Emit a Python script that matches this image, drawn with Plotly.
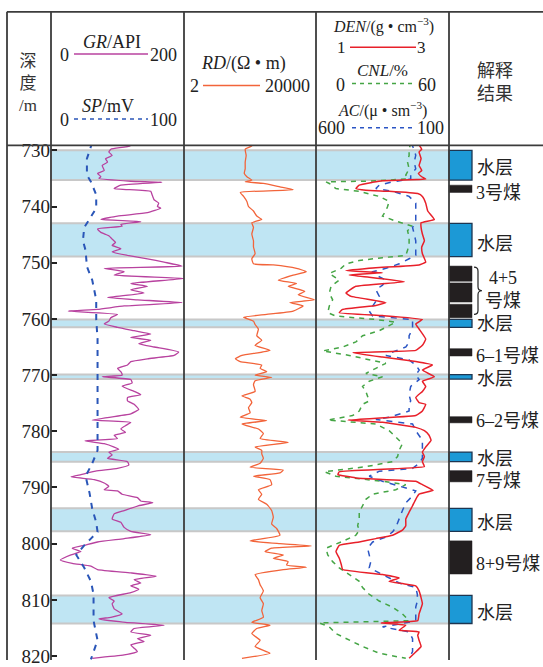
import math
import re
import plotly.graph_objects as go

# ---------------- data ----------------
GR_DEPTH = [728.6, 729.2, 729.8, 730.3, 730.9, 731.5, 732.1, 732.7, 733.6, 734.1,
            734.7, 735.0, 735.5, 735.7, 736.2, 736.8, 737.3, 737.9, 738.8, 739.4,
            740.0, 740.3, 741.1, 741.7, 742.3, 742.7, 743.2, 743.5, 744.0, 744.6,
            745.2, 745.8, 746.4, 746.9, 747.5, 748.1, 748.7, 749.3, 749.9, 750.6,
            751.0, 751.6, 752.2, 752.8, 753.7, 754.2, 754.8, 755.4, 756.2, 756.6,
            757.1, 757.7, 758.3, 758.6, 759.2, 759.8, 760.4, 760.9, 761.5, 762.1,
            762.7, 763.3, 763.8, 764.4, 765.0, 765.9, 766.5, 767.1, 767.6, 768.2,
            768.8, 769.4, 770.0, 770.3, 770.8, 771.4, 772.0, 772.9, 773.5, 774.0,
            774.6, 775.2, 776.1, 776.9, 778.0, 778.4, 779.0, 779.6, 780.2, 780.7,
            781.3, 781.7, 782.2, 782.8, 783.2, 783.7, 784.2, 784.8, 785.4, 786.0,
            786.6, 787.1, 787.7, 788.1, 788.6, 789.2, 789.8, 790.4, 790.6, 791.2,
            791.8, 792.4, 792.7, 793.3, 794.1, 794.7, 795.6, 796.2, 797.1, 797.8,
            798.4, 799.1, 799.7, 800.3, 800.8, 801.4, 802.0, 802.9, 803.5, 804.0,
            804.6, 805.2, 805.8, 806.4, 807.0, 807.5, 808.1, 808.7, 809.6, 810.2,
            810.7, 811.6, 812.5, 813.1, 813.4, 814.0, 814.5, 815.1, 815.7, 816.3,
            816.9, 817.4, 818.0, 818.6, 819.2, 819.8, 820.4]
GR = [118, 119, 90, 87, 92, 82, 85, 77, 80, 70,
      75, 72, 120, 167, 105, 95, 150, 152, 155, 162,
      160, 165, 145, 100, 75, 135, 105, 107, 70, 75,
      87, 92, 97, 92, 105, 92, 115, 145, 170, 197,
      80, 110, 95, 200, 120, 145, 120, 140, 85, 130,
      197, 110, 70, 26, 100, 90, 87, 80, 100, 125,
      150, 120, 150, 132, 155, 192, 185, 145, 120, 115,
      100, 105, 107, 77, 120, 122, 107, 125, 135, 115,
      115, 125, 132, 120, 62, 120, 112, 105, 112, 95,
      100, 51, 80, 95, 102, 87, 92, 85, 115, 117,
      100, 67, 45, 30, 65, 80, 87, 80, 100, 107,
      130, 135, 153, 130, 110, 95, 92, 105, 110, 120,
      150, 110, 70, 50, 32, 45, 30, 14, 32, 60,
      70, 120, 158, 125, 135, 120, 132, 120, 87, 95,
      92, 95, 107, 90, 72, 112, 170, 125, 120, 150,
      130, 140, 120, 125, 130, 110, 62]

SP_DEPTH = [728.6, 731.5, 734.4, 735.6, 737.9, 740.3, 742.6, 743.7, 746.1, 747.8,
            750.7, 753.1, 756.6, 760.1, 763.6, 767.1, 770.5, 774.6, 779.9, 783.4,
            785.7, 788.0, 791.0, 793.8, 796.2, 797.9, 799.1, 800.3, 802.0, 804.3,
            806.7, 809.0, 811.3, 813.7, 817.2, 819.5, 820.6]
SP = [31, 27, 27, 30, 34, 34, 28, 25, 24, 26,
      27, 31, 34, 34, 35, 35, 35, 35, 35, 35,
      31, 26, 29, 31, 34, 35, 30, 25, 19, 25,
      30, 32, 32, 32, 35, 32, 30]

RD_DEPTH = [728.6, 729.2, 729.8, 730.9, 732.1, 733.3, 734.1, 734.7, 735.3, 735.6,
            735.9, 736.5, 737.0, 737.5, 738.2, 739.1, 740.0, 740.8, 741.7, 742.3,
            742.9, 743.7, 744.9, 746.1, 747.2, 748.4, 749.3, 750.2, 750.4, 751.0,
            751.6, 752.2, 753.1, 753.7, 754.2, 755.1, 755.7, 756.6, 757.1, 757.7,
            758.6, 759.2, 759.7, 760.4, 761.0, 761.8, 763.0, 763.8, 764.7, 765.6,
            766.5, 767.1, 767.6, 768.2, 768.8, 769.4, 770.0, 770.4, 771.0, 771.7,
            772.9, 773.7, 774.3,
            774.9, 775.8, 776.7, 777.5, 778.1, 778.7, 779.6, 780.4, 781.3, 782.0,
            782.8, 783.4, 784.0, 784.8, 785.7, 786.4, 786.9, 787.4, 788.0, 788.6,
            789.5, 790.4, 791.2, 792.1, 793.0, 794.1, 795.3, 796.5, 797.3, 798.5,
            799.5, 800.0, 800.4, 800.8, 801.4, 802.0, 802.6, 803.2, 803.8, 804.2,
            804.6, 805.5, 806.4, 807.3, 808.4, 809.6, 810.7, 811.9, 813.1, 814.0,
            814.5, 815.1, 816.0, 817.2, 818.3, 819.5, 820.4]
RD = [227, 227, 143, 153, 143, 143, 134, 161, 227, 143,
      509, 1614, 4066, 101, 128, 161, 180, 255, 321, 454,
      227, 255, 227, 255, 255, 286, 227, 255, 1018, 5127,
      10234, 4066, 1439, 5127, 2876, 9120, 5754, 18240, 3228, 8128,
      4066, 641, 128, 255, 286, 360, 321, 454, 286, 809,
      114, 72, 101, 454, 405, 641, 286, 906, 286, 255,
      286, 114, 202,
      227, 180, 202, 101, 641, 114, 360, 509, 405, 2876,
      286, 454, 454, 509, 405, 202, 2036, 1614, 255, 809,
      906, 360, 454, 360, 641, 906, 1018, 906, 1282, 1614,
      202, 1614, 14488, 906, 572, 2036, 1018, 2876, 2564, 10234,
      2036, 286, 360, 405, 509, 405, 509, 454, 509, 227,
      809, 321, 227, 405, 286, 809, 114]

DEN_DEPTH = [728.6, 729.2, 729.8, 730.3, 731.5, 732.7, 733.6, 734.1, 734.7, 735.1,
             735.4, 735.7, 736.2, 736.8, 737.1, 737.3, 737.7, 738.2, 739.4, 740.8,
             742.3, 742.9, 743.7, 744.9, 746.1, 747.2, 748.4, 749.9, 750.4, 750.9,
             751.4, 751.8, 752.2, 752.6, 753.4, 754.2, 755.4, 756.0, 757.1, 757.6,
             758.3, 758.9, 759.4, 760.1, 760.9, 761.8, 763.6, 764.7, 765.6, 766.0,
             766.8, 767.6, 768.2, 769.1, 770.3, 771.1, 772.0, 772.9, 774.0, 774.9,
             775.2, 776.4, 777.2, 778.0, 778.4, 779.3, 779.9, 780.7, 781.6, 782.8,
             783.7, 784.5, 785.4, 786.3, 787.2, 787.7, 788.3, 788.9, 789.5, 790.5,
             791.2, 792.1, 793.3, 794.4, 795.6, 796.8, 797.6, 798.5, 799.1, 799.7,
             800.3, 801.4, 802.6, 803.7, 804.6, 805.5, 806.1, 806.7, 807.1, 807.5,
             808.4, 809.6, 810.7, 812.5, 813.7, 814.1, 814.5, 815.4, 815.7, 816.3,
             817.2, 818.3, 819.5, 820.4]
DEN = [2.58, 2.56, 2.59, 2.55, 2.58, 2.55, 2.59, 2.54, 2.59, 2.65,
       2.00, 1.85, 1.65, 1.60, 1.75, 2.10, 2.53, 2.60, 2.65, 2.68,
       2.78, 2.58, 2.58, 2.60, 2.63, 2.59, 2.60, 2.65, 2.55, 1.90,
       1.45, 2.00, 1.50, 1.80, 2.33, 1.60, 1.45, 1.53, 2.05, 1.90,
       1.40, 1.35, 2.00, 2.60, 2.50, 2.55, 2.65, 2.60, 2.50, 1.55,
       2.00, 2.50, 2.75, 2.60, 2.78, 2.60, 2.65, 2.60, 2.50, 2.55,
       2.65, 2.60, 2.50, 1.48, 2.00, 2.50, 2.63, 2.70, 2.73, 2.65,
       2.60, 2.63, 2.60, 2.63, 1.35, 1.33, 1.60, 2.50, 2.60, 2.76,
       2.55, 2.50, 2.45, 2.40, 2.35, 2.35, 2.30, 2.15, 1.90, 1.65,
       1.35, 1.30, 1.35, 1.38, 1.40, 2.00, 2.25, 2.10, 2.30, 2.50,
       2.55, 2.58, 2.60, 2.55, 2.53, 1.98, 2.35, 2.25, 2.55, 2.53,
       2.55, 2.58, 2.48, 2.40]

CNL_DEPTH = [728.6, 729.8, 730.9, 732.1, 733.3, 734.4, 735.1, 735.5, 735.6, 735.9,
             736.8, 737.3, 738.2, 739.1, 740.0, 740.8, 741.7, 742.6, 743.5, 744.3,
             745.5, 746.7, 747.8, 748.7, 749.1, 749.6, 750.2, 751.0, 751.9, 753.1,
             754.2, 755.4, 756.6, 757.7, 758.9, 759.5, 760.1, 760.6, 761.2, 762.1,
             763.0, 764.1, 765.0, 765.7, 766.5, 767.1, 767.9, 768.8, 769.7, 770.3,
             771.1, 772.0, 772.9, 773.8, 774.6,
             775.2, 776.4, 777.2, 778.0, 778.7, 779.9, 781.0, 782.2, 783.4, 784.5,
             785.4, 786.3, 787.2, 788.0, 788.9, 789.5, 790.4, 791.2, 792.1, 793.3,
             794.4, 795.6, 796.8, 797.6, 798.5, 799.7, 800.8, 802.0, 803.2, 804.3,
             805.5, 806.7, 807.8, 809.0, 810.2, 811.3, 812.5, 813.7, 814.1, 814.8,
             816.0, 817.2, 818.3, 819.5, 820.4]
CNL = [42.8, 42.0, 42.0, 41.3, 42.0, 40.5, 41.3, 22.5, 4.5, 6.0,
       9.0, 19.5, 28.5, 33.0, 32.3, 31.5, 30.0, 36.0, 43.5, 41.3,
       42.0, 42.0, 41.3, 40.5, 30.0, 19.5, 13.5, 11.3, 6.0, 10.5,
       6.8, 6.0, 7.5, 6.0, 5.3, 9.0, 27.0, 36.0, 33.0, 28.5,
       21.0, 18.0, 12.0, 3.0, 15.0, 22.5, 31.5, 27.0, 22.5, 30.0,
       24.0, 21.0, 22.5, 23.3, 24.0,
       21.0, 19.5, 16.5, 5.3, 27.0, 33.0, 36.0, 39.0, 37.5, 36.8,
       34.5, 22.5, 3.8, 9.0, 30.0, 40.5, 36.0, 25.5, 22.5, 21.0,
       19.5, 19.5, 18.8, 19.5, 18.0, 11.3, 4.5, 5.3, 7.5, 10.5,
       15.0, 19.5, 21.0, 24.0, 28.5, 34.5, 39.0, 42.0, 1.5, 6.0,
       9.0, 15.0, 21.0, 28.5, 40.5]

AC_DEPTH = [728.6, 729.8, 730.9, 732.1, 733.3, 734.4, 735.1, 735.6, 736.2, 736.8,
            737.3, 738.2, 739.4, 740.8, 742.0, 742.9, 743.7, 744.9, 746.1, 747.2,
            748.7, 749.3, 750.2, 751.0, 751.6, 752.2, 753.1, 754.0, 754.8, 756.0,
            756.9, 757.7, 758.6, 759.5, 760.1, 760.9, 761.8, 763.0, 764.1, 765.0,
            765.9, 766.5, 767.3, 768.2, 769.1, 770.0, 770.8, 772.0, 773.5, 774.6,
            775.2, 776.4, 777.5, 777.9, 778.7, 779.9, 780.7, 781.6, 782.5, 783.7,
            784.8, 785.7, 786.6, 787.1, 788.0, 788.9, 789.8, 790.6, 791.5, 792.7,
            794.1, 795.6, 797.1, 797.9, 798.8, 799.7, 800.8, 802.0, 803.2, 804.3,
            805.2, 806.1, 807.0, 807.8, 809.0, 810.2, 811.3, 812.5, 813.7, 814.2,
            814.8, 815.7, 816.9, 818.0, 819.2, 820.4]
AC = [244, 231, 225, 231, 225, 244, 244, 312, 362, 375,
      312, 250, 225, 225, 225, 225, 237, 231, 225, 225,
      225, 250, 287, 337, 387, 375, 337, 350, 375, 362,
      375, 387, 400, 387, 237, 237, 237, 250, 250, 262,
      312, 337, 250, 225, 212, 225, 212, 244, 250, 244,
      250, 250, 325, 375, 237, 225, 212, 200, 200, 200,
      200, 212, 237, 362, 400, 350, 287, 225, 237, 262,
      275, 287, 300, 312, 337, 387, 406, 400, 394, 400,
      362, 325, 287, 225, 219, 219, 225, 225, 225, 275,
      350, 250, 237, 237, 237, 250]

WATER_TOP = [730.0, 743.0, 760.1, 769.9, 783.7, 793.7, 809.2]
WATER_BOT = [735.3, 748.9, 761.5, 770.7, 785.4, 797.8, 814.2]
COAL_TOP = [736.2, 750.6, 753.6, 757.4, 765.3, 777.4, 787.0, 799.5]
COAL_BOT = [737.5, 753.3, 757.0, 759.8, 766.6, 778.5, 789.0, 805.4]

RESULT_TEXT = ["水层", "3号煤", "水层", "4+5<br>号煤", "水层", "6–1号煤", "水层",
               "6–2号煤", "水层", "7号煤", "水层", "8+9号煤", "水层"]
RESULT_DEPTH = [732.8, 737.2, 746.4, 754.9, 760.6, 766.2, 770.4,
                777.9, 784.6, 788.5, 795.9, 803.2, 812.0]
RESULT_X = [475, 474, 475, 483, 475, 474, 475, 474, 475, 474, 475, 474, 475]

DEPTH_TICKS = [730, 740, 750, 760, 770, 780, 790, 800, 810, 820]

# ---------------- style ----------------
W, H = 543, 667
C_GR = "#b8429f"
C_SP = "#2a56b8"
C_RD = "#f2643a"
C_DEN = "#e8202a"
C_CNL = "#45a545"
C_AC = "#2b55c4"
C_BAND = "#bfe5f3"
C_BANDEDGE = "#c8c8c8"
C_BOX = "#1c99d6"
C_COAL = "#231f20"
C_FRAME = "#3c3c3c"
SERIF = "Liberation Serif"
CJK = "Noto Sans CJK SC"


def cjk(s):
    """wrap runs of CJK characters so they use the CJK font"""
    return re.sub(r"([\u4e00-\u9fff]+)",
                  lambda m: f"<span style=\"font-family:{CJK}\">{m.group(1)}</span>", s)


def px(x):
    return x / W


def py(y):
    return 1 - y / H


X_COLS = [7, 51, 184, 316, 449]
Y_HEAD_TOP, Y_HEAD_BOT = 7, 143

fig = go.Figure()

fig.add_trace(go.Scatter(x=SP, y=SP_DEPTH, xaxis="x2", yaxis="y", mode="lines",
                         line=dict(color=C_SP, width=2, dash="6px,6px")))
fig.add_trace(go.Scatter(x=GR, y=GR_DEPTH, xaxis="x", yaxis="y", mode="lines",
                         line=dict(color=C_GR, width=1.3, shape="spline", smoothing=0.4)))
fig.add_trace(go.Scatter(x=RD, y=RD_DEPTH, xaxis="x3", yaxis="y", mode="lines",
                         line=dict(color=C_RD, width=1.3, shape="spline", smoothing=0.4)))
fig.add_trace(go.Scatter(x=CNL, y=CNL_DEPTH, xaxis="x4", yaxis="y", mode="lines",
                         line=dict(color=C_CNL, width=1.5, dash="5px,5px")))
fig.add_trace(go.Scatter(x=AC, y=AC_DEPTH, xaxis="x5", yaxis="y", mode="lines",
                         line=dict(color=C_AC, width=1.5, dash="6px,6px")))
fig.add_trace(go.Scatter(x=DEN, y=DEN_DEPTH, xaxis="x6", yaxis="y", mode="lines",
                         line=dict(color=C_DEN, width=1.5, shape="spline", smoothing=0.3)))

hidden = dict(visible=False, showgrid=False, zeroline=False, fixedrange=True)
ydom_top = py(Y_HEAD_BOT)

fig.update_layout(
    width=W, height=H, margin=dict(l=0, r=0, t=0, b=0), autosize=False,
    paper_bgcolor="white", plot_bgcolor="rgba(0,0,0,0)", showlegend=False,
    font=dict(family=SERIF, color="#222"),
    xaxis=dict(domain=[px(51), px(184)], range=[0, 200], anchor="y", **hidden),
    xaxis2=dict(overlaying="x", range=[0, 100], anchor="y", **hidden),
    xaxis3=dict(domain=[px(184), px(316)], type="log",
                range=[math.log10(2), math.log10(20000)], anchor="y", **hidden),
    xaxis4=dict(domain=[px(316), px(449)], range=[0, 60], anchor="y", **hidden),
    xaxis5=dict(overlaying="x4", range=[600, 100], anchor="y", **hidden),
    xaxis6=dict(overlaying="x4", range=[1, 3], anchor="y", **hidden),
    yaxis=dict(domain=[0, ydom_top], range=[820.7, 729.13], anchor="x",
               tickvals=DEPTH_TICKS, ticks="inside", ticklen=6, tickwidth=1.5,
               tickcolor="#222", showline=False, showgrid=False, zeroline=False,
               tickfont=dict(family=SERIF, size=19, color="#222"),
               ticklabelstandoff=0, ticklabeloverflow="allow"),
)

shapes = []
for t, b in zip(WATER_TOP, WATER_BOT):
    shapes.append(dict(type="rect", xref="paper", yref="y", x0=px(51), x1=px(449),
                       y0=t, y1=b, fillcolor=C_BAND,
                       line=dict(color=C_BANDEDGE, width=2), layer="below"))
    shapes.append(dict(type="rect", xref="paper", yref="y", x0=px(449), x1=px(472),
                       y0=t, y1=b, fillcolor=C_BOX,
                       line=dict(color="#1d3550", width=1.3), layer="above"))
for t, b in zip(COAL_TOP, COAL_BOT):
    shapes.append(dict(type="rect", xref="paper", yref="y", x0=px(449), x1=px(472),
                       y0=t, y1=b, fillcolor=C_COAL,
                       line=dict(color=C_COAL, width=0.5), layer="above"))

for xc in X_COLS:
    shapes.append(dict(type="line", xref="paper", yref="paper", x0=px(xc), x1=px(xc),
                       y0=py(Y_HEAD_TOP), y1=0, line=dict(color=C_FRAME, width=1.8)))
for yc in (Y_HEAD_TOP, Y_HEAD_BOT):
    shapes.append(dict(type="line", xref="paper", yref="paper", x0=px(7), x1=1,
                       y0=py(yc), y1=py(yc), line=dict(color=C_FRAME, width=1.8)))

keys = [(74, 148, 50, C_GR, "solid", 1.5), (74, 148, 116, C_SP, "4px,4px", 1.5),
        (203, 260, 82, C_RD, "solid", 1.5), (350, 416, 43, C_DEN, "solid", 1.5),
        (352, 415, 80, C_CNL, "4px,4px", 1.5), (352, 414, 125, C_AC, "4px,4px", 1.5)]
for x0, x1, yy, col, dash, wdt in keys:
    shapes.append(dict(type="line", xref="paper", yref="paper", x0=px(x0), x1=px(x1),
                       y0=py(yy), y1=py(yy), line=dict(color=col, width=wdt, dash=dash)))

bx0, bx1, bx2 = 474, 478, 482
by0, bym, by1 = 267, 291, 315


def P(x, y):
    return f"{px(x):.5f},{py(y):.5f}"


brace = (f"M{P(bx0, by0)} Q{P(bx1, by0)} {P(bx1, by0 + 4)} L{P(bx1, bym - 4)} "
         f"Q{P(bx1, bym)} {P(bx2, bym)} Q{P(bx1, bym)} {P(bx1, bym + 4)} "
         f"L{P(bx1, by1 - 4)} Q{P(bx1, by1)} {P(bx0, by1)}")
shapes.append(dict(type="path", xref="paper", yref="paper", path=brace,
                   line=dict(color="#222", width=1.2)))

fig.update_layout(shapes=shapes)

ann = []


def text(x, y, s, size=18, anchor="center", color="#222", family=SERIF):
    ann.append(dict(x=px(x), y=py(y), xref="paper", yref="paper", text=s,
                    showarrow=False, xanchor=anchor, yanchor="middle",
                    font=dict(family=family, size=size, color=color)))


text(28, 77, cjk("深<br>度<br>/m"), 17, color="#333")
text(112, 38, "<i>GR</i>/API")
text(64, 51, "0")
text(163, 51, "200")
text(108, 103, "<i>SP</i>/mV")
text(64, 117, "0")
text(163, 117, "100")
text(243, 60, "<i>RD</i>/(Ω • m)")
text(194, 82, "2")
text(287, 82, "20000")
text(383, 21, "<i>DEN</i>/(g • cm<sup>−3</sup>)", 16)
text(341, 43, "1", 17)
text(421, 43, "3", 17)
text(382, 67, "<i>CNL</i>/%", 17)
text(340, 81, "0")
text(427, 81, "60")
text(382, 106, "<i>AC</i>/(μ • sm<sup>−3</sup>)", 16)
text(331, 125, "600")
text(430, 125, "100")
text(495, 77, cjk("解释<br>结果"), 18, color="#333")

for s, d, xx in zip(RESULT_TEXT, RESULT_DEPTH, RESULT_X):
    ann.append(dict(x=px(xx), y=d, xref="paper", yref="y", text=cjk(s), showarrow=False,
                    xanchor="left", yanchor="middle", align="center",
                    font=dict(family=SERIF, size=18, color="#222")))

fig.update_layout(annotations=ann)

fig.write_html("out.html")
